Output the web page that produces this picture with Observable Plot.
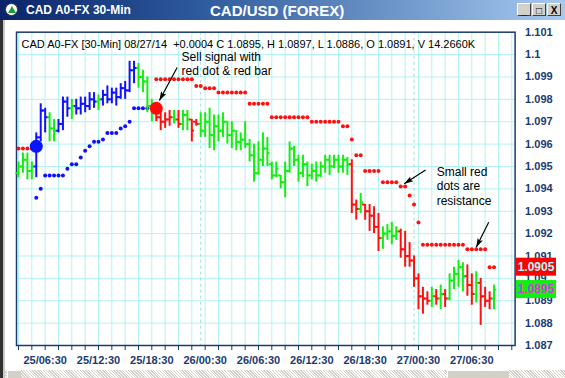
<!DOCTYPE html>
<html>
<head>
<meta charset="utf-8">
<script src="https://cdn.jsdelivr.net/npm/d3@7"></script>
<script src="https://cdn.jsdelivr.net/npm/@observablehq/plot@0.6"></script>
<style>
  body { margin: 0; background: #fff; }
  #win { position: relative; width: 565px; height: 378px; overflow: hidden; background: #fff;
         font-family: "Liberation Sans", Arial, sans-serif; }
  #tb { position: relative; height: 20px; background: linear-gradient(90deg, #0a246a 0%, #2d5a9c 35%, #a6caf0 100%);
        color: #fff; font-weight: bold; }
  #tb .ico { position: absolute; left: 5px; top: 3px; width: 13px; height: 13px; border-radius: 50%;
             background: #fff; border: 1px solid #334; box-sizing: border-box; }
  #tb .ico::after { content: ""; position: absolute; left: 2px; top: 2px; width: 0; height: 0;
             border-left: 4px solid transparent; border-right: 4px solid transparent; border-bottom: 7px solid #1a9a3a; }
  #tb .t1 { position: absolute; left: 26px; top: 3px; font-size: 12px; }
  #tb .t2 { position: absolute; left: 210px; top: 2px; font-size: 15px; }
  #tb .btns { position: absolute; right: 4px; top: 3px; display: flex; gap: 1px; }
  #tb .btns div { width: 14px; height: 13px; background: #d4d0c8; color: #000; font-size: 10px; line-height: 13px;
                  text-align: center; box-sizing: border-box; border: 1px solid; border-color: #fff #404040 #404040 #fff; }
  #plot { position: relative; height: 350px; }
  #lb { position: absolute; left: 0; top: 20px; width: 3px; height: 358px; background: #303030; }
  #lb2 { position: absolute; left: 3px; top: 20px; width: 2px; height: 358px; background: #c8c8c8; }
  #sb { position: absolute; left: 5px; top: 370px; width: 560px; height: 8px;
        background: repeating-linear-gradient(45deg, #d4d0c8 0 1px, #ffffff 1px 2px); }
  #sb .th1 { position: absolute; left: 2px; top: 0; width: 14px; height: 8px; background: #d4d0c8;
             border-top: 1px solid #fff; border-left: 1px solid #fff; box-sizing: border-box; }
  #sb .th2 { position: absolute; left: 442px; top: 0; width: 62px; height: 8px; background: #d4d0c8;
             border-top: 1px solid #fff; border-left: 1px solid #fff; box-sizing: border-box; }
</style>
</head>
<body>
<div id="win">
  <div id="tb">
    <div class="ico"></div>
    <span class="t1">CAD A0-FX 30-Min</span>
    <span class="t2">CAD/USD (FOREX)</span>
    <div class="btns"><div>_</div><div>□</div><div>X</div></div>
  </div>
  <div id="plot"></div>
  <div id="lb"></div><div id="lb2"></div>
  <div id="sb"><div class="th1"></div><div class="th2"></div></div>
</div>
<script>
// ---- data (30-minute bars, index 0 = 25/03:30) ----
const barColor = [
  "g","g","g","g","b","b","b","g","g","b",
  "b","b","g","b","b","b","b","b","g","b",
  "b","b","b","b","b","b","b","g","g","g",
  "g","r","r","r","r","g","r","g","g","r",
  "r","g","g","g","g","g","g","g","g","g",
  "g","g","g","g","g","g","g","g","g","g",
  "g","g","g","g","g","g","g","g","g","g",
  "g","g","g","g","g","r","r","g","r","r",
  "r","r","g","g","g","g","r","r","r","r",
  "r","r","r","g","r","g","r","g","g","g",
  "g","r","r","g","r","r","r","g"];
const open = [
  1.0947,1.0950,1.0953,1.0948,1.0950,1.0963,1.0975,1.0972,1.0967,1.0966,
  1.0969,1.0979,1.0976,1.0977,1.0976,1.0978,1.0977,1.0980,1.0979,1.0980,
  1.0982,1.0980,1.0983,1.0981,1.0985,1.0984,1.0993,1.0994,1.0990,1.0988,
  1.0977,1.0974,1.0972,1.0970,1.0971,1.0972,1.0971,1.0969,1.0973,1.0971,
  1.0970,1.0969,1.0966,1.0970,1.0964,1.0968,1.0966,1.0970,1.0964,1.0966,
  1.0961,1.0962,1.0960,1.0955,1.0947,1.0953,1.0958,1.0951,1.0946,1.0946,
  1.0943,1.0948,1.0958,1.0953,1.0947,1.0951,1.0946,1.0948,1.0946,1.0950,
  1.0953,1.0950,1.0953,1.0950,1.0953,1.0951,1.0933,1.0931,1.0933,1.0930,
  1.0928,1.0923,1.0918,1.0920,1.0921,1.0919,1.0921,1.0913,1.0910,1.0908,
  1.0900,1.0892,1.0891,1.0890,1.0892,1.0891,1.0893,1.0891,1.0899,1.0902,
  1.0905,1.0901,1.0897,1.0893,1.0898,1.0892,1.0890,1.0891];
const high = [
  1.0952,1.0956,1.0956,1.0952,1.0965,1.0978,1.0976,1.0974,1.0971,1.0971,
  1.0981,1.0981,1.0980,1.0980,1.0981,1.0981,1.0983,1.0983,1.0982,1.0984,
  1.0986,1.0985,1.0985,1.0987,1.0988,1.0997,1.0997,1.0996,1.0993,1.0990,
  1.0980,1.0978,1.0975,1.0974,1.0975,1.0975,1.0975,1.0975,1.0975,1.0971,
  1.0971,1.0974,1.0974,1.0976,1.0973,1.0973,1.0974,1.0970,1.0970,1.0966,
  1.0965,1.0970,1.0962,1.0960,1.0961,1.0965,1.0963,1.0952,1.0952,1.0946,
  1.0952,1.0961,1.0959,1.0955,1.0955,1.0952,1.0951,1.0952,1.0952,1.0955,
  1.0955,1.0955,1.0955,1.0955,1.0954,1.0953,1.0935,1.0938,1.0933,1.0933,
  1.0932,1.0929,1.0923,1.0924,1.0925,1.0923,1.0922,1.0921,1.0916,1.0910,
  1.0902,1.0896,1.0894,1.0896,1.0895,1.0897,1.0895,1.0902,1.0905,1.0908,
  1.0907,1.0906,1.0902,1.0903,1.0900,1.0896,1.0894,1.0897];
const low = [
  1.0945,1.0947,1.0944,1.0944,1.0945,1.0961,1.0965,1.0961,1.0961,1.0965,
  1.0966,1.0972,1.0971,1.0973,1.0973,1.0974,1.0975,1.0976,1.0975,1.0977,
  1.0978,1.0978,1.0977,1.0980,1.0980,1.0983,1.0987,1.0985,1.0983,1.0974,
  1.0970,1.0970,1.0966,1.0967,1.0968,1.0969,1.0967,1.0966,1.0966,1.0961,
  1.0968,1.0963,1.0963,1.0958,1.0957,1.0961,1.0963,1.0960,1.0958,1.0957,
  1.0957,1.0958,1.0952,1.0943,1.0946,1.0950,1.0950,1.0944,1.0945,1.0940,
  1.0936,1.0947,1.0950,1.0943,1.0945,1.0941,1.0944,1.0943,1.0945,1.0947,
  1.0946,1.0949,1.0947,1.0947,1.0946,1.0929,1.0926,1.0929,1.0926,1.0921,
  1.0920,1.0912,1.0913,1.0917,1.0915,1.0917,1.0909,1.0905,1.0905,1.0896,
  1.0886,1.0884,1.0888,1.0887,1.0888,1.0886,1.0887,1.0890,1.0895,1.0896,
  1.0894,1.0892,1.0888,1.0889,1.0879,1.0887,1.0886,1.0886];
const close = [
  1.0950,1.0953,1.0948,1.0950,1.0963,1.0975,1.0972,1.0967,1.0966,1.0969,
  1.0979,1.0976,1.0977,1.0976,1.0978,1.0977,1.0980,1.0979,1.0980,1.0982,
  1.0980,1.0983,1.0981,1.0985,1.0984,1.0993,1.0994,1.0990,1.0988,1.0977,
  1.0974,1.0972,1.0970,1.0971,1.0972,1.0971,1.0969,1.0973,1.0971,1.0966,
  1.0969,1.0966,1.0970,1.0964,1.0968,1.0966,1.0970,1.0964,1.0966,1.0961,
  1.0962,1.0960,1.0955,1.0947,1.0953,1.0958,1.0956,1.0946,1.0949,1.0943,
  1.0948,1.0958,1.0953,1.0947,1.0951,1.0946,1.0948,1.0946,1.0950,1.0953,
  1.0950,1.0953,1.0950,1.0953,1.0951,1.0933,1.0931,1.0934,1.0930,1.0928,
  1.0923,1.0918,1.0920,1.0921,1.0919,1.0921,1.0913,1.0910,1.0908,1.0900,
  1.0892,1.0891,1.0890,1.0892,1.0891,1.0893,1.0891,1.0899,1.0902,1.0905,
  1.0901,1.0897,1.0893,1.0898,1.0892,1.0890,1.0891,1.0895];

// support (blue) and resistance (red) stop dots
const supportBar = [4,5,6,7,8,9,10,11,12,13,14,15,16,17,18,19,20,21,22,23,24,25,26,27,28,29];
const supportValue = [1.0936,1.0940,1.0946,1.0946,1.0946,1.0946,1.0946,1.0949,1.0951,1.0951,
  1.0954,1.0957,1.0959,1.0961,1.0961,1.0962,1.0965,1.0965,1.0965,1.0967,1.0968,1.0970,
  1.0976,1.0976,1.0976,1.0976];
const resistanceBar = [0,1,2,3,
  31,32,33,34,35,36,37,38,39,40,41,42,43,44,45,46,47,48,49,50,51,52,53,54,55,56,57,58,59,
  60,61,62,63,64,65,66,67,68,69,70,71,72,73,74,75,76,77,78,79,80,81,82,83,84,85,86,87,88,
  89,90,91,92,93,94,95,96,97,98,99,100,101,102,103,104,105,106,107];
const resistanceValue = [1.0958,1.0958,1.0958,1.0958,
  1.0989,1.0989,1.0989,1.0989,1.0989,1.0989,1.0989,1.0989,1.0989,
  1.0986,1.0986,
  1.0985,1.0985,1.0985,
  1.0983,1.0983,1.0983,1.0983,1.0983,1.0983,1.0983,
  1.0978,1.0978,1.0978,1.0978,1.0978,
  1.0972,1.0972,1.0972,1.0972,1.0972,1.0972,1.0972,1.0972,1.0972,
  1.0970,1.0970,1.0970,1.0970,1.0970,1.0970,1.0970,
  1.0968,1.0968,
  1.0962,
  1.0955,1.0955,
  1.0948,1.0948,1.0948,1.0948,
  1.0943,1.0943,1.0943,1.0943,
  1.0941,1.0941,
  1.0937,
  1.0933,
  1.0925,
  1.0915,1.0915,1.0915,1.0915,1.0915,1.0915,1.0915,1.0915,1.0915,1.0915,
  1.0913,1.0913,1.0913,1.0913,1.0913,
  1.0905,1.0905];

// signal dots
const signalBar = [4, 31];
const signalValue = [1.0959, 1.0976];
const signalKind = ["buy", "sell"];

// axes
const yTicks = [1.087,1.088,1.089,1.090,1.091,1.092,1.093,1.094,1.095,1.096,1.097,1.098,1.099,1.100,1.101];
const yTickLabels = ["1.087","1.088","1.089","1.09","1.091","1.092","1.093","1.094","1.095","1.096","1.097","1.098","1.099","1.1","1.101"];
const xLabelBars = [6,18,30,42,54,66,78,90,102];
const xLabels = ["25/06:30","25/12:30","25/18:30","26/00:30","26/06:30","26/12:30","26/18:30","27/00:30","27/06:30"];
const dayBreakBars = [41, 89];

// header line and price boxes
const header = "CAD A0-FX [30-Min] 08/27/14  +0.0004 C 1.0895, H 1.0897, L 1.0886, O 1.0891, V 14.2660K";
const priceBoxValue = [1.0905, 1.0895];
const priceBoxLabel = ["1.0905", "1.0895"];

// annotations (data coordinates)
const noteText = ["Sell signal with\nred dot & red bar", "Small red\ndots are\nresistance"];
const noteBar = [36.7, 94.1];
const noteValue = [1.1002, 1.09505];
const arrowFromBar = [35.7, 91.6, 105.8];
const arrowFromValue = [1.09942, 1.09484, 1.09251];
const arrowToBar = [31.7, 86.8, 103.0];
const arrowToValue = [1.09795, 1.09423, 1.09139];

// ---- build ----
const colorMap = {b: "#1010ff", g: "#10f010", r: "#ff1010"};
const bars = open.map((o, i) => ({i, o, h: high[i], l: low[i], c: close[i], col: colorMap[barColor[i]]}));
const sup = supportBar.map((b, k) => ({b, v: supportValue[k]}));
const res = resistanceBar.map((b, k) => ({b, v: resistanceValue[k]}));
const sig = signalBar.map((b, k) => ({b, v: signalValue[k], col: signalKind[k] === "buy" ? "#0a14ff" : "#ff0a0a"}));
const notes = noteText.map((t, k) => ({t, b: noteBar[k], v: noteValue[k]}));
const arrows = arrowFromBar.map((b, k) => ({x1: b, y1: arrowFromValue[k], x2: arrowToBar[k], y2: arrowToValue[k]}));
const xTickBars = d3.range(0, 112, 3);
const yLab = new Map(yTicks.map((t, i) => [t, yTickLabels[i]]));
const xLab = new Map(xLabelBars.map((t, i) => [t, xLabels[i]]));
const axisColor = "#1c3a70";
const gridColor = "#b2f2f2";

// filled arrowhead marker
function filledArrow(color) {
  return d3.create("svg:marker")
    .attr("viewBox", "-10 -5 10 10")
    .attr("refX", 0).attr("refY", 0)
    .attr("markerWidth", 9).attr("markerHeight", 9)
    .attr("markerUnits", "userSpaceOnUse")
    .attr("orient", "auto")
    .attr("fill", color).attr("stroke", "none")
    .call(m => m.append("path").attr("d", "M-10,-3.2L0,0L-10,3.2L-8,0Z"))
    .node();
}

const plot = Plot.plot({
  width: 565,
  height: 350,
  marginLeft: 16,
  marginRight: 50.4,
  marginTop: 11.7,
  marginBottom: 25,
  x: {domain: [-0.45, 111.74], axis: null},
  y: {domain: [1.087, 1.101], axis: null},
  style: {fontFamily: "'Liberation Sans', Arial, sans-serif", fontSize: "11px", background: "transparent", overflow: "visible"},
  marks: [
    Plot.ruleY(yTicks, {stroke: gridColor, strokeWidth: 1}),
    Plot.ruleX(xTickBars, {stroke: gridColor, strokeWidth: 1}),
    Plot.ruleX(dayBreakBars, {stroke: "#9adada", strokeWidth: 1, strokeDasharray: "3,3"}),
    Plot.frame({stroke: axisColor, strokeWidth: 1.5}),
    Plot.axisX(xTickBars, {anchor: "bottom", tickSize: 5, tickFormat: () => "", stroke: axisColor, label: null}),
    Plot.axisX(xLabelBars, {anchor: "bottom", tickSize: 0, tickPadding: 11, tickFormat: d => xLab.get(d),
      fill: axisColor, fontWeight: "bold", fontSize: 11, label: null}),
    Plot.text(yTicks, {y: d => d, text: d => yLab.get(d), frameAnchor: "right", dx: 10, textAnchor: "start",
      fill: axisColor, fontWeight: "bold", fontSize: 11}),
    // resistance / support dots
    Plot.dot(res, {x: "b", y: "v", r: 2, fill: "#ff1010", stroke: null}),
    Plot.dot(sup, {x: "b", y: "v", r: 2, fill: "#1010ff", stroke: null}),
    // OHLC bars
    Plot.ruleX(bars, {x: "i", y1: "l", y2: "h", stroke: "col", strokeWidth: 2}),
    Plot.ruleY(bars, {y: "o", x1: d => d.i - 0.6, x2: d => d.i, stroke: "col", strokeWidth: 2}),
    Plot.ruleY(bars, {y: "c", x1: d => d.i, x2: d => d.i + 0.6, stroke: "col", strokeWidth: 2}),
    // signal dots
    Plot.dot(sig, {x: "b", y: "v", r: 6.5, fill: "col", stroke: null}),
    // header
    Plot.text([header], {frameAnchor: "top-left", dx: 5, dy: 12, textAnchor: "start", lineAnchor: "middle",
      fill: "#000", fontSize: 11}),
    // annotations
    Plot.text(notes, {x: "b", y: "v", text: "t", textAnchor: "start", lineAnchor: "top", lineHeight: 1.22,
      fill: "#000", fontSize: 12}),
    Plot.link(arrows, {x1: "x1", y1: "y1", x2: "x2", y2: "y2", stroke: "#000", strokeWidth: 1.2,
      markerEnd: filledArrow})
  ]
});
document.getElementById("plot").appendChild(plot);

// price boxes in the right margin, placed with the plot's own y scale
const ys = plot.scale("y");
const boxFill = ["#ff0000", "#10f010"];
const boxText = ["#a8ffff", "#e030e0"];
const svg = d3.select(plot);
priceBoxValue.forEach((v, k) => {
  const y = ys.apply(v);
  svg.append("rect").attr("x", 516).attr("y", y - 9).attr("width", 40).attr("height", 18).attr("fill", boxFill[k]);
  svg.append("text").attr("x", 536).attr("y", y).attr("dy", "0.36em").attr("text-anchor", "middle")
    .attr("font-weight", "bold").attr("font-size", 12).attr("fill", boxText[k]).text(priceBoxLabel[k]);
});
</script>
</body>
</html>
